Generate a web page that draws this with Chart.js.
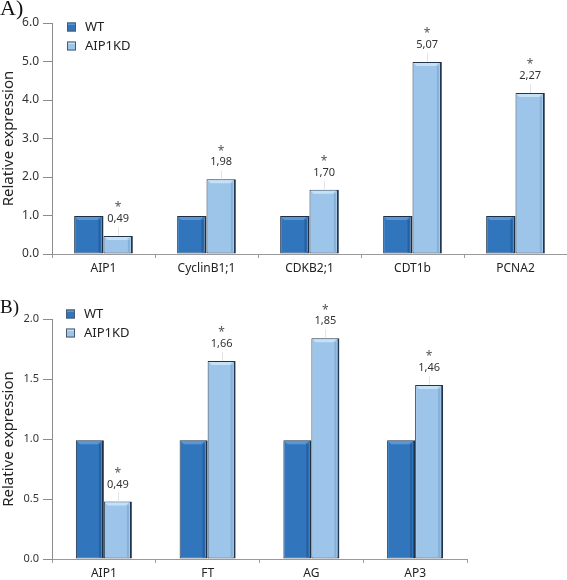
<!DOCTYPE html>
<html>
<head>
<meta charset="utf-8">
<script src="https://cdn.jsdelivr.net/npm/chart.js@4.4.1/dist/chart.umd.min.js"></script>
<style>
  body { margin: 0; background: #fff; }
  #page { position: relative; width: 567px; height: 580px; overflow: hidden; }
  canvas { position: absolute; left: 0; }
  .panel { position: absolute; left: 0; font-family: "Liberation Serif", serif; color: #111; }
</style>
</head>
<body>
<div id="page">
  <canvas id="chartA" width="567" height="290" style="top:0px"></canvas>
  <canvas id="chartB" width="567" height="295" style="top:285px"></canvas>
  <div class="panel" style="top:-3px; font-size:22px; line-height:22px">A)</div>
  <div class="panel" style="top:297px; font-size:19px; line-height:19px">B)</div>
</div>
<script>
// Panel A
const genesA = ["AIP1", "CyclinB1;1", "CDKB2;1", "CDT1b", "PCNA2"];
const wtA = [0.99, 0.99, 0.99, 0.99, 0.99];
const kdA = [0.47, 1.94, 1.67, 4.99, 4.18];
const kdTextA = ["0,49", "1,98", "1,70", "5,07", "2,27"];

// Panel B
const genesB = ["AIP1", "FT", "AG", "AP3"];
const wtB = [0.99, 0.99, 0.99, 0.99];
const kdB = [0.48, 1.65, 1.84, 1.45];
const kdTextB = ["0,49", "1,66", "1,85", "1,46"];

Chart.defaults.font.family = '"Noto Sans", sans-serif';
Chart.defaults.color = "#222";

// bevel look on the bars (top highlight, dark right edge)
const bevelPlugin = {
  id: "bevel",
  afterDatasetsDraw(chart) {
    const ctx = chart.ctx;
    chart.data.datasets.forEach((ds, i) => {
      chart.getDatasetMeta(i).data.forEach(bar => {
        const p = bar.getProps(["x", "y", "base", "width"], true);
        const l = p.x - p.width / 2, r = p.x + p.width / 2;
        ctx.save();
        ctx.fillStyle = ds.bevelTop;
        ctx.beginPath();
        ctx.moveTo(l + 1, p.y + 1);
        ctx.lineTo(r - 3, p.y + 1);
        ctx.lineTo(r - 6, p.y + 4);
        ctx.lineTo(l + 4, p.y + 4);
        ctx.closePath();
        ctx.fill();
        ctx.fillStyle = ds.bevelSide;
        ctx.fillRect(r - 5, p.y + 4, 2, p.base - p.y - 5);
        ctx.restore();
      });
    });
  }
};

// "*" and value text above the knock-down bars
const valuePlugin = {
  id: "values",
  afterDatasetsDraw(chart) {
    const ctx = chart.ctx;
    chart.data.datasets.forEach((ds, i) => {
      if (!ds.valueText) return;
      chart.getDatasetMeta(i).data.forEach((bar, j) => {
        const p = bar.getProps(["x", "y"], true);
        ctx.save();
        ctx.strokeStyle = "#e4e4e4";
        ctx.lineWidth = 1;
        ctx.beginPath();
        ctx.moveTo(Math.round(p.x) + 0.5, p.y - 9);
        ctx.lineTo(Math.round(p.x) + 0.5, p.y);
        ctx.stroke();
        ctx.textAlign = "center";
        ctx.textBaseline = "middle";
        ctx.fillStyle = "#333";
        ctx.font = '11px "Noto Sans", sans-serif';
        ctx.fillText(ds.valueText[j], p.x, p.y - 17);
        ctx.fillStyle = "#555";
        ctx.font = '12px "Noto Sans", sans-serif';
        ctx.fillText("*", p.x, p.y - 28);
        ctx.restore();
      });
    });
  }
};

// small legend inside the plot, top left
const boxLegend = {
  id: "boxLegend",
  afterDraw(chart, args, opts) {
    const ctx = chart.ctx;
    chart.data.datasets.forEach((ds, i) => {
      const cy = opts.y + i * opts.gap;
      ctx.save();
      ctx.fillStyle = ds.backgroundColor;
      ctx.fillRect(opts.x, cy - 4.5, 9, 9);
      ctx.fillStyle = ds.bevelTop;
      ctx.fillRect(opts.x + 1, cy - 4, 7, 2);
      ctx.strokeStyle = "#4a5a6e";
      ctx.strokeRect(opts.x + 0.5, cy - 4, 8, 8);
      ctx.fillStyle = "#222";
      ctx.font = '13px "Noto Sans", sans-serif';
      ctx.textBaseline = "middle";
      ctx.fillText(ds.label, opts.x + 18, cy);
      ctx.restore();
    });
  }
};

function makeChart(id, genes, wt, kd, kdText, yMax, yStep, cfg) {
  return new Chart(document.getElementById(id), {
    type: "bar",
    data: {
      labels: genes,
      datasets: [
        {
          label: "WT",
          data: wt,
          backgroundColor: "#3176bd",
          bevelTop: "#5b97d4",
          bevelSide: "#27609e",
          borderColor: "#1d3047",
          borderWidth: { top: 1, left: 1, right: 2, bottom: 1 },
          borderSkipped: false
        },
        {
          label: "AIP1KD",
          data: kd,
          valueText: kdText,
          backgroundColor: "#9dc5ea",
          bevelTop: "#c6e0f6",
          bevelSide: "#85b0d8",
          borderColor: "#23364d",
          borderWidth: { top: 1, left: 1, right: 2, bottom: 1 },
          borderSkipped: false
        }
      ]
    },
    options: {
      responsive: false,
      animation: false,
      layout: { padding: cfg.padding },
      datasets: { bar: { barPercentage: 1, categoryPercentage: cfg.catPct } },
      plugins: {
        legend: { display: false },
        tooltip: { enabled: false },
        boxLegend: cfg.legend
      },
      scales: {
        x: {
          grid: { drawOnChartArea: false, tickLength: 4, color: "#9a9a9a", offset: true },
          border: { color: "#9a9a9a" },
          ticks: { font: { size: 12 }, color: "#222", padding: 3 },
          afterFit(scale) { scale.height = cfg.xHeight; }
        },
        y: {
          min: 0,
          max: yMax,
          ticks: {
            stepSize: yStep,
            callback: v => v.toFixed(1),
            font: { size: cfg.yFont },
            color: "#333",
            padding: 4
          },
          grid: { drawOnChartArea: false, tickLength: 9, color: "#8c8c8c" },
          border: { color: "#8c8c8c" },
          title: {
            display: true,
            text: "Relative expression",
            font: { size: 15 },
            color: "#222",
            padding: 0
          },
          afterFit(scale) { scale.width = 52; }
        }
      }
    },
    plugins: [bevelPlugin, valuePlugin, boxLegend]
  });
}

makeChart("chartA", genesA, wtA, kdA, kdTextA, 6, 1, {
  padding: { top: 23, right: 0, bottom: 6, left: 0 },
  catPct: 0.57,
  xHeight: 30,
  yFont: 12,
  legend: { x: 67, y: 27, gap: 19 }
});

makeChart("chartB", genesB, wtB, kdB, kdTextB, 2, 0.5, {
  padding: { top: 34, right: 100, bottom: 1, left: 0 },
  catPct: 0.54,
  xHeight: 20,
  yFont: 11,
  legend: { x: 66, y: 29, gap: 19 }
});
</script>
</body>
</html>
